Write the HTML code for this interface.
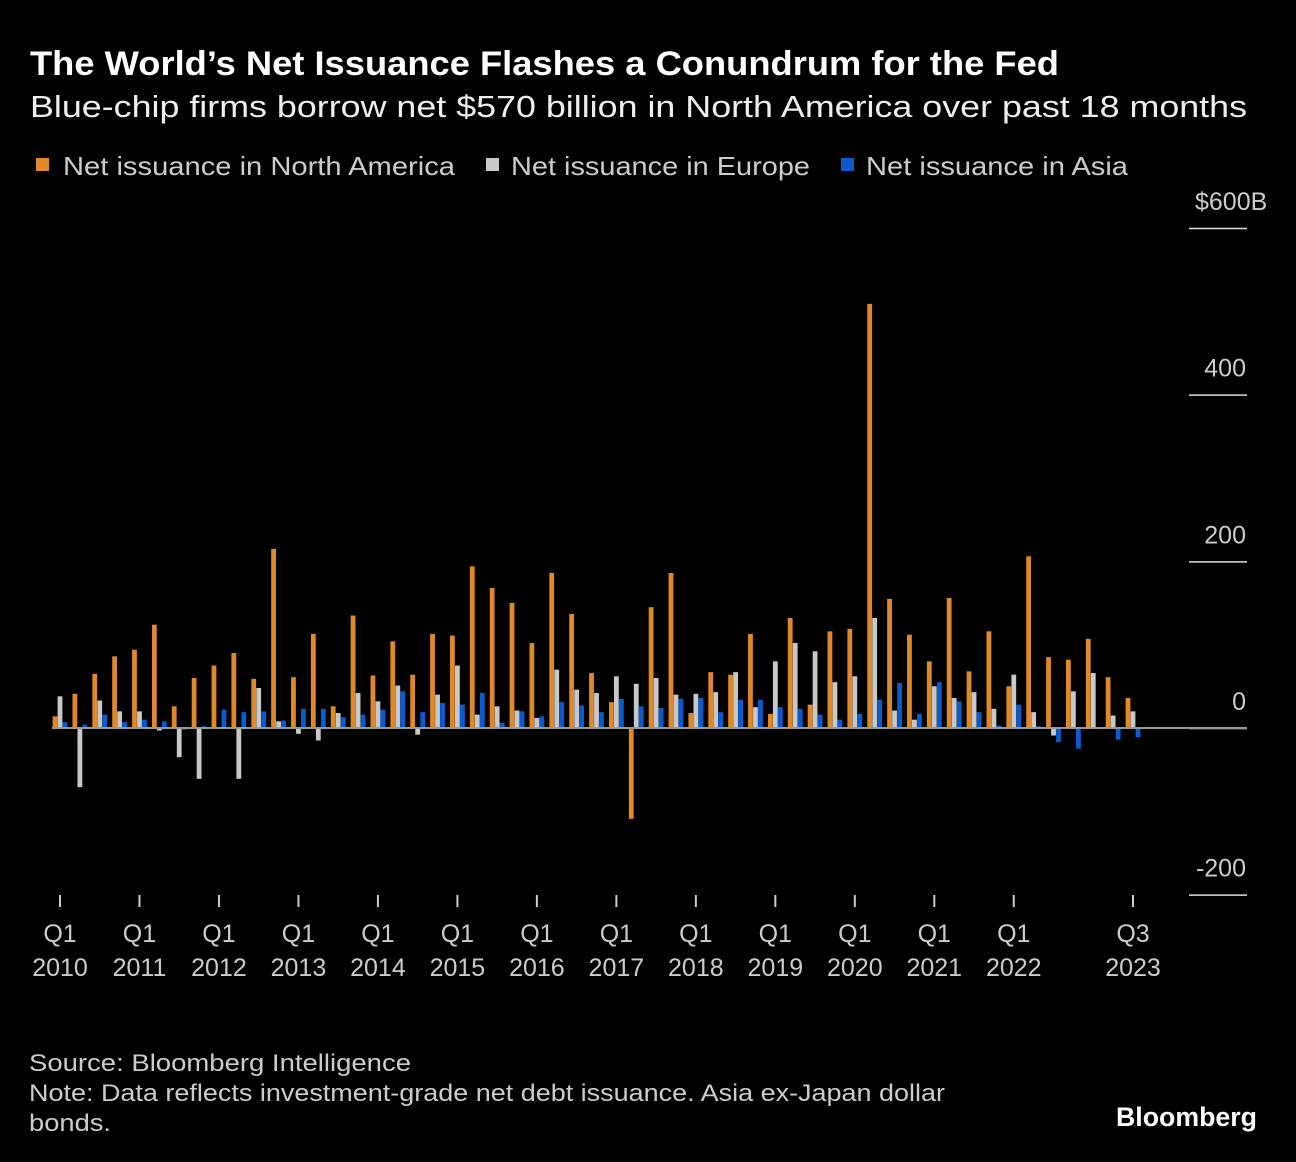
<!DOCTYPE html>
<html><head><meta charset="utf-8">
<style>
html,body{margin:0;padding:0;background:#000;}
svg{display:block;font-family:"Liberation Sans",sans-serif;}
</style></head>
<body>
<svg id="chart" width="1296" height="1162" viewBox="0 0 1296 1162" xmlns="http://www.w3.org/2000/svg">
<rect x="0" y="0" width="1296" height="1162" fill="#000"/>
<text x="30" y="75" fill="#fff" font-size="34" font-weight="bold" textLength="1029" lengthAdjust="spacingAndGlyphs">The World’s Net Issuance Flashes a Conundrum for the Fed</text>
<text x="30" y="117" fill="#eee" font-size="31" textLength="1217" lengthAdjust="spacingAndGlyphs">Blue-chip firms borrow net $570 billion in North America over past 18 months</text>
<g>
<rect x="36" y="158" width="13" height="13" fill="#e0892a"/>
<text x="63" y="175" fill="#ccc" font-size="26" textLength="392" lengthAdjust="spacingAndGlyphs">Net issuance in North America</text>
<rect x="486" y="158" width="13" height="13" fill="#c8c8c8"/>
<text x="511" y="175" fill="#ccc" font-size="26" textLength="299" lengthAdjust="spacingAndGlyphs">Net issuance in Europe</text>
<rect x="841" y="158" width="13" height="13" fill="#0a5bd0"/>
<text x="866" y="175" fill="#ccc" font-size="26" textLength="262" lengthAdjust="spacingAndGlyphs">Net issuance in Asia</text>
</g>
<g id="yaxis"></g>
<g id="bars"></g>
<line x1="52" y1="728" x2="1247" y2="728" stroke="#999" stroke-width="2"/>
<g id="xaxis"></g>
<text x="29" y="1071" fill="#ccc" font-size="24" textLength="382" lengthAdjust="spacingAndGlyphs">Source: Bloomberg Intelligence</text>
<text x="29" y="1101" fill="#ccc" font-size="24" textLength="916" lengthAdjust="spacingAndGlyphs">Note: Data reflects investment-grade net debt issuance. Asia ex-Japan dollar</text>
<text x="29" y="1131" fill="#ccc" font-size="24" textLength="82" lengthAdjust="spacingAndGlyphs">bonds.</text>
<text x="1116" y="1126" fill="#fff" font-size="27" font-weight="bold" textLength="141" lengthAdjust="spacingAndGlyphs">Bloomberg</text>
</svg>
<script>
const northAmerica = [14,41,65,86, 94,124,26,60, 75,90,59,215, 61,113,26,135, 63,104,64,113, 111,194,168,150, 102,186,137,66, 31,-109,145,186, 18,67,64,113, 17,132,28,116, 119,509,155,112, 80,156,68,116, 50,206,85,82, 107,61,36];
const europe = [38,-71,33,20, 20,-3,-35,-61, -1,-61,48,8, -7,-15,18,42, 32,51,-8,40, 75,16,26,21, 12,70,46,42, 62,53,60,40, 41,43,67,25, 80,102,92,55, 62,132,21,10, 50,36,43,23, 64,19,-9,44, 66,15,20];
const asia = [7,4,16,7, 10,8,-2,2, 22,19,20,9, 23,23,13,16, 22,44,19,30, 28,42,6,20, 14,31,27,19, 35,26,24,35, 36,19,34,34, 25,23,16,10, 17,34,54,17, 55,32,19,3, 28,2,-17,-25, -1,-14,-11];
const yTicks = [-200,0,200,400,600];
const yTickLabels = ["-200","0","200","400","$600B"];
const xTickIdx = [0,4,8,12,16,20,24,28,32,36,40,44,48,54];
const xTickTop = ["Q1","Q1","Q1","Q1","Q1","Q1","Q1","Q1","Q1","Q1","Q1","Q1","Q1","Q3"];
const xTickBottom = ["2010","2011","2012","2013","2014","2015","2016","2017","2018","2019","2020","2021","2022","2023"];

const NS="http://www.w3.org/2000/svg";
const x0=60, step=(1133-60)/54;
const xPos = i => x0 + i*step;
const yPos = v => 728 - v*(728-228)/600;

const barsG=document.getElementById('bars');
const series=[[northAmerica,'#e0892a',-5,'north-america'],[europe,'#c8c8c8',0,'europe'],[asia,'#0a5bd0',5,'asia']];
series.forEach(([arr,col,off,nm])=>{
  arr.forEach((v,i)=>{
    const r=document.createElementNS(NS,'rect');
    const cx=xPos(i)+off;
    const y1=yPos(Math.max(v,0)), y2=yPos(Math.min(v,0));
    r.setAttribute('x',cx-2.4);
    r.setAttribute('width',4.8);
    r.setAttribute('y',y1);
    r.setAttribute('height',Math.max(y2-y1,0.5));
    r.setAttribute('fill',col);
    
    
    barsG.appendChild(r);
  });
});

const yG=document.getElementById('yaxis');
yTicks.forEach((t,k)=>{
  const y=yPos(t);
  const l=document.createElementNS(NS,'line');
  l.setAttribute('x1',1189);l.setAttribute('x2',1247);
  l.setAttribute('y1',y+0.5);l.setAttribute('y2',y+0.5);
  l.setAttribute('stroke','#ddd');l.setAttribute('stroke-width',1.5);
  
  
  yG.appendChild(l);
  const tx=document.createElementNS(NS,'text');
  if (k===yTicks.length-1) {
    tx.setAttribute('x',1195);
    tx.setAttribute('text-anchor','start');
  } else {
    tx.setAttribute('x',1246);
    tx.setAttribute('text-anchor','end');
  }
  tx.setAttribute('y',y-18);
  tx.setAttribute('fill','#ccc');tx.setAttribute('font-size','25');
  tx.textContent=yTickLabels[k];
  
  
  yG.appendChild(tx);
});

const xG=document.getElementById('xaxis');
xTickIdx.forEach((qi,k)=>{
  const x=xPos(qi);
  const l=document.createElementNS(NS,'line');
  l.setAttribute('x1',x);l.setAttribute('x2',x);
  l.setAttribute('y1',895);l.setAttribute('y2',907);
  l.setAttribute('stroke','#ccc');l.setAttribute('stroke-width',2);
  
  
  xG.appendChild(l);
  const t1=document.createElementNS(NS,'text');
  t1.setAttribute('x',x);t1.setAttribute('y',942);
  t1.setAttribute('text-anchor','middle');t1.setAttribute('fill','#ccc');t1.setAttribute('font-size','25');
  t1.textContent=xTickTop[k];
  
  
  xG.appendChild(t1);
  const t2=document.createElementNS(NS,'text');
  t2.setAttribute('x',x);t2.setAttribute('y',976);
  t2.setAttribute('text-anchor','middle');t2.setAttribute('fill','#ccc');t2.setAttribute('font-size','25');
  t2.textContent=xTickBottom[k];
  
  
  xG.appendChild(t2);
});
</script>
</body></html>
